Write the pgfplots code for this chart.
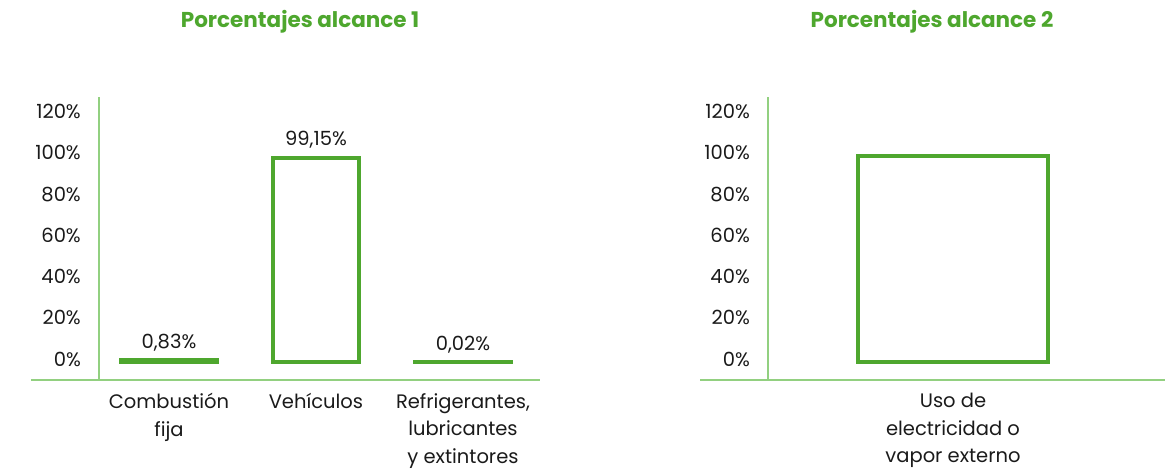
\documentclass[border=0pt]{standalone}
\usepackage{pgfplots}
\pgfplotsset{compat=1.18}
\usepackage{fontspec}
\setmainfont{Poppins}
\definecolor{bargreen}{RGB}{78,167,46}
\definecolor{linegreen}{RGB}{146,208,128}
\definecolor{txt}{RGB}{26,26,26}
\begin{document}
\begin{tikzpicture}
\useasboundingbox (0,0) rectangle (1170bp,-475bp);
\pgfplotsset{
 mystyle/.style={
  scale only axis, height=283bp, ymin=-8.7, ymax=128.6,
  ytick={0,20,40,60,80,100,120},
  yticklabels={0\%,20\%,40\%,60\%,80\%,100\%,120\%},
  axis line style={draw=none}, major tick length=0pt,
  tick label style={font=\fontsize{19.5bp}{27.5bp}\selectfont, text=txt, inner sep=0pt},
  yticklabel style={anchor=east, xshift=-18bp, yshift=3bp},
  xticklabel style={anchor=north, yshift=-13bp, align=center},
  ybar, bar shift=0pt,
  every axis plot/.append style={draw=bargreen, fill=white, line width=4bp},
  clip=false,
 },
 lblstyle/.style={
  nodes near coords, point meta=explicit symbolic,
  nodes near coords style={font=\fontsize{19.5bp}{22bp}\selectfont, text=txt, inner sep=0pt, anchor=south, yshift=7bp},
 }
}
\begin{axis}[mystyle, lblstyle, at={(99bp,-380bp)}, anchor=south west, width=441bp,
  xmin=-0.476, xmax=2.524, xtick={0,1,2},
  xticklabels={{Combustión\\fija},{Vehículos},{Refrigerantes,\\lubricantes\\y extintores}}]
\addplot[bar width=0.653] coordinates {(0,0.83) [0,83\%]};
\addplot[bar width=0.585] coordinates {(1,99.15) [99,15\%]};
\addplot[bar width=0.653] coordinates {(2,0.02) [0,02\%]};
\draw[linegreen, line width=1.2bp] (rel axis cs:0,0) -- (rel axis cs:0,1);
\draw[linegreen, line width=1.2bp] ([xshift=-68bp]rel axis cs:0,0) -- (rel axis cs:1,0);
\node[font=\fontsize{21.5bp}{24bp}\selectfont\bfseries, text=bargreen] at (rel axis cs:0.456,1.265) {Porcentajes alcance 1};
\end{axis}
\begin{axis}[mystyle, at={(768bp,-380bp)}, anchor=south west, width=397bp,
  xmin=-0.5, xmax=0.573, xtick={0},
  xticklabels={{Uso de\\electricidad o\\vapor externo}}]
\addplot[bar width=0.516] coordinates {(0,100)};
\draw[linegreen, line width=1.2bp] (rel axis cs:0,0) -- (rel axis cs:0,1);
\draw[linegreen, line width=1.2bp] ([xshift=-68bp]rel axis cs:0,0) -- (rel axis cs:1,0);
\node[font=\fontsize{21.5bp}{24bp}\selectfont\bfseries, text=bargreen] at (rel axis cs:0.413,1.265) {Porcentajes alcance 2};
\end{axis}
\end{tikzpicture}
\end{document}
